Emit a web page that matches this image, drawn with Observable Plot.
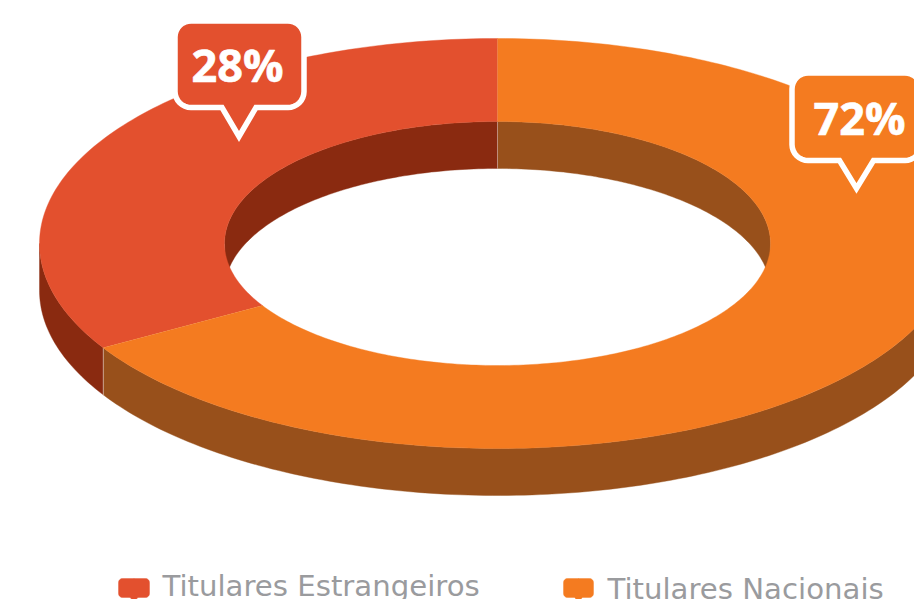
<!DOCTYPE html>
<html>
<head>
<meta charset="utf-8">
<script src="https://cdn.jsdelivr.net/npm/d3@7"></script>
<script src="https://cdn.jsdelivr.net/npm/@observablehq/plot@0.6"></script>
<style>
html,body{margin:0;padding:0;background:#fff;overflow:hidden;width:914px;height:599px}
svg{display:block}
</style>
</head>
<body>
<div id="chart"></div>
<script>
// Data
const categories = ["Titulares Nacionais", "Titulares Estrangeiros"];
const labels = ["72%", "28%"];
const drawnShare = [66.5, 33.5]; // share of the ring as actually drawn, clockwise from the top
const topColors = ["#F47B20", "#E3502E"];
const wallColors = ["#98501B", "#8A2A10"];
const legendOrder = [1, 0];

// Layout
const W = 914, H = 599;
const cx = 497, cy = 243, outerRx = 458, outerRy = 205, innerRx = 273, innerRy = 122, depth = 47;
const textGrey = "#9A9B9E";
const calloutBoxes = [
  {x0: 791.5, x1: 920.5, y0: 72.5, y1: 160, tipX: 856, tipY: 188, half: 17, tx: 859, ty: 134},
  {x0: 174.5, x1: 303.5, y0: 20.5, y1: 107, tipX: 238.5, tipY: 136, half: 17, tx: 237, ty: 81}
];
const legendItems = [
  {x0: 118, x1: 149, y0: 578, y1: 597, tx: 162, ty: 595},
  {x0: 563, x1: 593, y0: 578, y1: 597, tx: 607, ty: 598}
];

const pt = (rx, ry, deg, dy = 0) => {
  const t = deg * Math.PI / 180;
  return {x: cx + rx * Math.sin(t), y: cy - ry * Math.cos(t) + dy};
};
const arc = (rx, ry, a, b, dy = 0) => {
  const n = Math.max(2, Math.ceil(Math.abs(b - a)));
  return d3.range(n + 1).map(i => pt(rx, ry, a + (b - a) * i / n, dy));
};
const ring = (a, b) => [...arc(outerRx, outerRy, a, b), ...arc(innerRx, innerRy, b, a)];
const wall = (rx, ry, a, b) => [...arc(rx, ry, a, b), ...arc(rx, ry, b, a, depth)];

function bubble({x0, x1, y0, y1, tipX, tipY, half}, r) {
  const corner = (ox, oy, a0) => d3.range(0, 9).map(i => {
    const t = (a0 + i * 90 / 8) * Math.PI / 180;
    return {x: ox + r * Math.cos(t), y: oy + r * Math.sin(t)};
  });
  const start = {x: (x0 + x1) / 2, y: y0};
  return [
    start,
    {x: x1 - r, y: y0},
    ...corner(x1 - r, y0 + r, -90),
    ...corner(x1 - r, y1 - r, 0),
    {x: tipX + half, y: y1},
    {x: tipX, y: tipY},
    {x: tipX - half, y: y1},
    ...corner(x0 + r, y1 - r, 90),
    ...corner(x0 + r, y0 + r, 180),
    start
  ];
}

const poly = (pts, fill, extra = {}) =>
  Plot.line(pts, {x: "x", y: "y", fill, stroke: fill, strokeWidth: 0.4, ...extra});

// Slice extents, clockwise from the top
let acc = 0;
const slices = drawnShare.map((s, i) => {
  const a = acc * 3.6; acc += s;
  return {a, b: acc * 3.6, i};
});

const marks = [];
// outer wall: lower half of the ellipse only
for (const {a, b, i} of slices) {
  const lo = Math.max(a, 90), hi = Math.min(b, 270);
  if (hi > lo) marks.push(poly(wall(outerRx, outerRy, lo, hi), wallColors[i], {clip: true}));
}
// inner wall: upper half of the hole only
marks.push(poly(wall(innerRx, innerRy, 0, 90), wallColors[0], {clip: true}));
marks.push(poly(wall(innerRx, innerRy, 270, 360), wallColors[1], {clip: true}));
// seams
const seamAngle = slices[1].a;
marks.push(Plot.line([pt(innerRx, innerRy, 0), pt(innerRx, innerRy, 0, depth)],
  {x: "x", y: "y", stroke: "#fff", strokeOpacity: 0.35, strokeWidth: 1}));
marks.push(Plot.line([pt(outerRx, outerRy, seamAngle), pt(outerRx, outerRy, seamAngle, depth)],
  {x: "x", y: "y", stroke: "#fff", strokeOpacity: 0.45, strokeWidth: 1}));
// top faces
for (const {a, b, i} of [slices[1], slices[0]]) {
  marks.push(poly(ring(a, b), topColors[i], {clip: true}));
}
// callouts
calloutBoxes.forEach((c, i) => {
  marks.push(Plot.line(bubble(c, 16), {
    x: "x", y: "y", fill: topColors[i], stroke: "#fff", strokeWidth: 5.5,
    strokeLinejoin: "miter", strokeMiterlimit: 10
  }));
  marks.push(Plot.text([labels[i]], {
    x: c.tx, y: c.ty, text: d => d, fill: "#fff", stroke: "#fff", strokeWidth: 0.6, fontSize: 45, fontWeight: 700,
    fontFamily: "Open Sans", textAnchor: "middle", lineAnchor: "bottom"
  }));
});
// legend
legendOrder.forEach((k, j) => {
  const l = legendItems[j];
  marks.push(poly(bubble({...l, tipX: (l.x0 + l.x1) / 2, tipY: l.y1 + 4, half: 4}, 4), topColors[k]));
  marks.push(Plot.text([categories[k]], {
    x: l.tx, y: l.ty, text: d => d, fill: textGrey, fontSize: 29.2,
    fontFamily: "DejaVu Sans", textAnchor: "start", lineAnchor: "bottom"
  }));
});

const chart = Plot.plot({
  width: W, height: H,
  margin: 0,
  x: {domain: [0, W], range: [0, W], axis: null},
  y: {domain: [0, H], range: [0, H], axis: null},
  style: {background: "#fff"},
  marks
});
document.getElementById("chart").appendChild(chart);
</script>
</body>
</html>
